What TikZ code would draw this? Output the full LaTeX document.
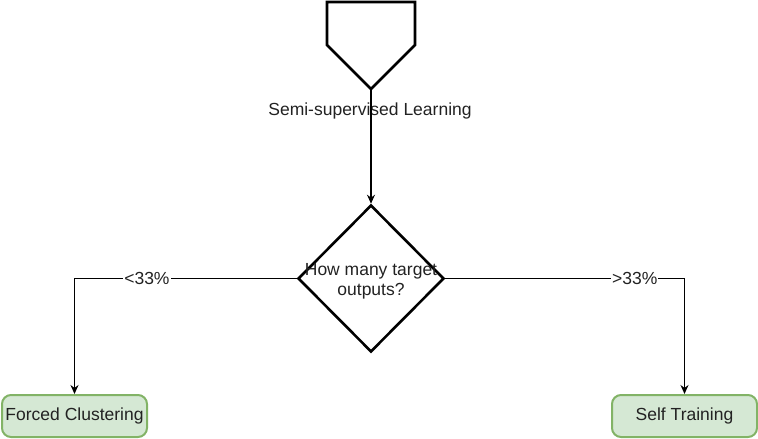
\documentclass[tikz,border=0pt]{standalone}
\usepackage{fontspec}
\setmainfont{Liberation Sans}
\usetikzlibrary{shapes.geometric,arrows.meta}
\definecolor{boxfill}{HTML}{D5E8D4}
\definecolor{boxline}{HTML}{82B366}
\definecolor{txt}{HTML}{222222}
\tikzset{
  shapeline/.style={line width=2.6pt, line join=miter},
  conn/.style={line width=1.4pt, -{Stealth[length=9pt,width=8pt]}},
  resultbox/.style={draw=boxline, fill=boxfill, line width=2pt, rounded corners=9pt,
    minimum width=145pt, minimum height=42pt, inner sep=0pt, text=txt,
    font=\fontsize{17.5}{20}\selectfont},
  lbl/.style={font=\fontsize{17.5}{20}\selectfont, text=txt, inner sep=1pt},
  edgelbl/.style={lbl, fill=white}
}
\begin{document}
\begin{tikzpicture}[x=1pt,y=-1pt]
\useasboundingbox (0,0) rectangle (758,439);
% start shape (pentagon)
\draw[shapeline] (327,2) -- (415,2) -- (415,45) -- (371,89) -- (327,45) -- cycle;
\coordinate (start) at (371,89);
\node[lbl] (startlbl) at (370,111) {Semi-supervised Learning};
% decision
\node[draw, shapeline, diamond, minimum width=146pt, minimum height=147pt, inner sep=0pt] (dec) at (371,278.5) {};
\node[lbl, align=center, font=\fontsize{17.5}{20}\selectfont] (dectext) at (371,281) {How many target\\outputs?};
% outcomes
\node[resultbox] (fc) at (74.5,416) {Forced Clustering};
\node[resultbox] (st) at (684.5,416) {Self Training};
% connectors
\draw[conn] (start) -- (dec.north);
\draw[conn] (dec.west) -| node[edgelbl, pos=0.337] {<33\%} (fc.north);
\draw[conn] (dec.east) -| node[edgelbl, pos=0.396] {>33\%} (st.north);
\end{tikzpicture}
\end{document}
